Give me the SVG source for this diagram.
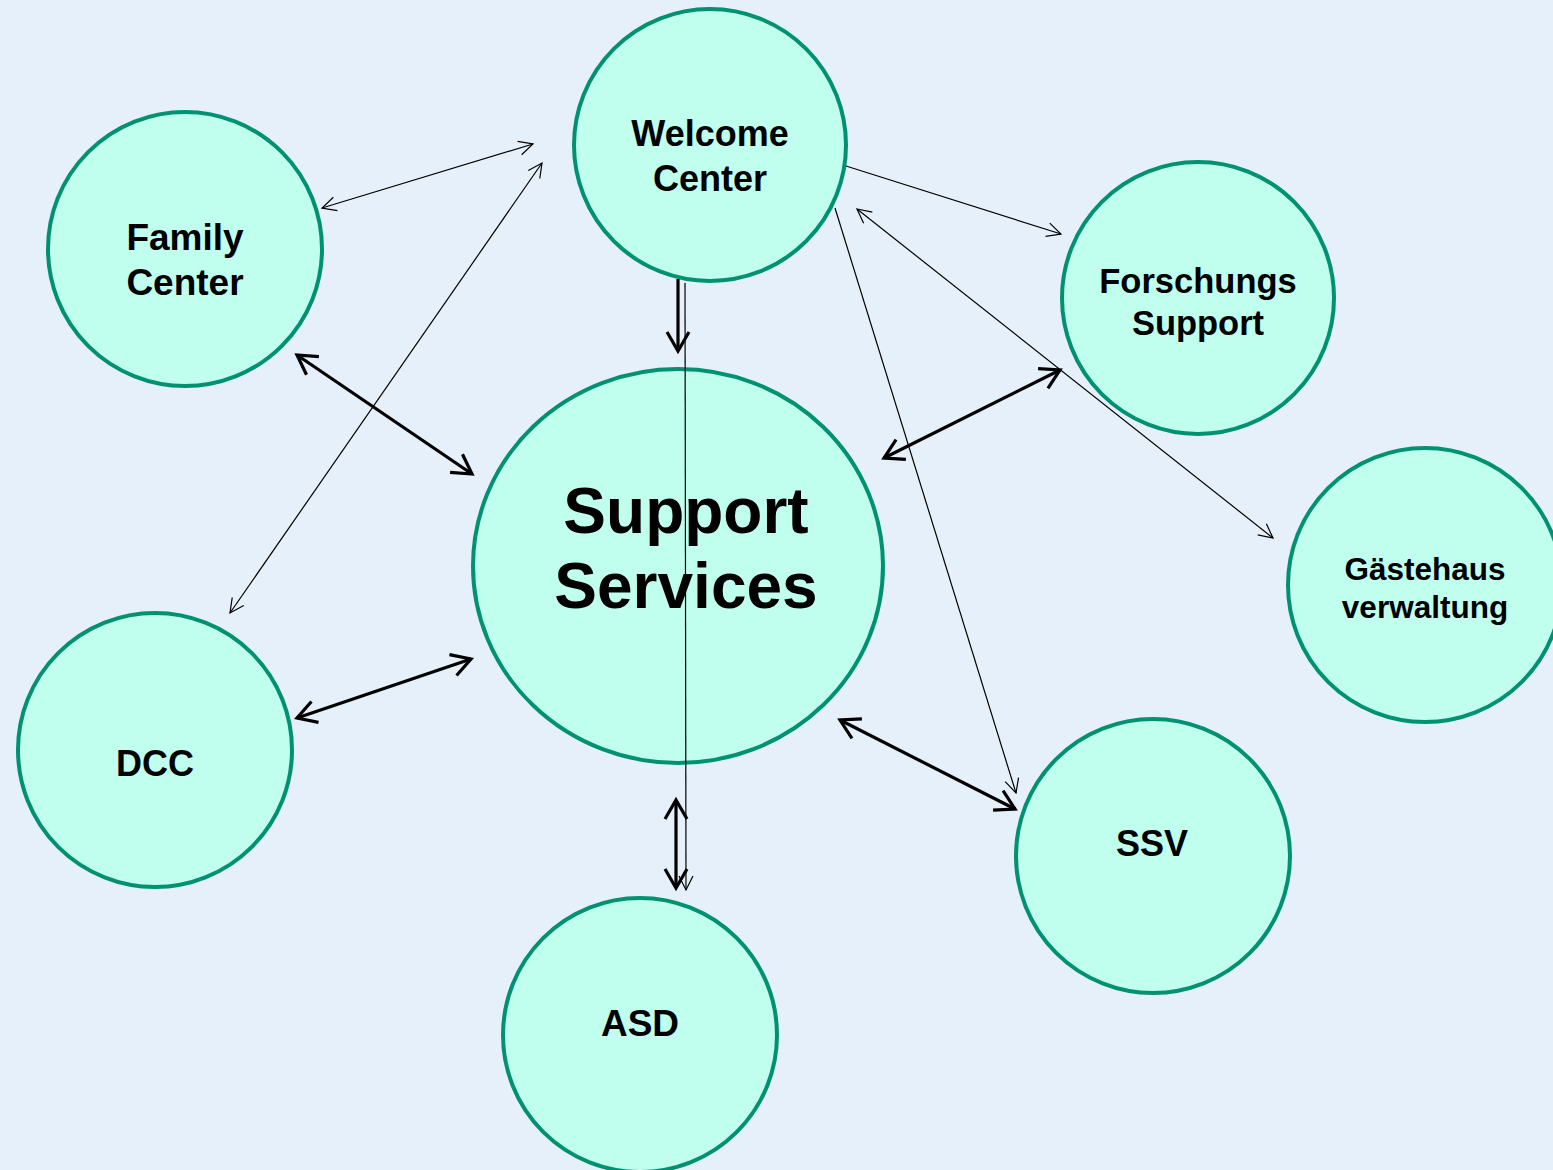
<svg xmlns="http://www.w3.org/2000/svg" width="1553" height="1170" viewBox="0 0 1553 1170">
<defs>
<style>
.node{fill:#C0FFEE;stroke:#009270;stroke-width:4}
.t{font-family:"Liberation Sans",Arial,sans-serif;font-weight:bold;fill:#000;text-anchor:middle}
.thin{stroke:#000;stroke-width:1.2;fill:none}
.thick{stroke:#000;stroke-width:3.2;fill:none}
</style>
<marker id="ah" markerUnits="userSpaceOnUse" markerWidth="40" markerHeight="40" refX="0" refY="0" orient="auto-start-reverse" viewBox="-20 -20 40 40" overflow="visible">
<path d="M-14,-7 L0,0 L-14,7" fill="none" stroke="#000" stroke-width="1.2"/>
</marker>
<marker id="AH" markerUnits="userSpaceOnUse" markerWidth="50" markerHeight="50" refX="0" refY="0" orient="auto-start-reverse" viewBox="-25 -25 50 50" overflow="visible">
<path d="M-19,-11 L0,0 L-19,11" fill="none" stroke="#000" stroke-width="3.2"/>
</marker>
</defs>
<rect width="1553" height="1170" fill="#E6F0FA"/>
<g id="welcome"><circle class="node" cx="710" cy="145" r="136"/><text class="t" font-size="36" x="710" y="146">Welcome</text><text class="t" font-size="36" x="710" y="191">Center</text></g>
<g id="family"><circle class="node" cx="185" cy="249" r="137"/><text class="t" font-size="37" x="185" y="250">Family</text><text class="t" font-size="37" x="185" y="295">Center</text></g>
<g id="forschung"><circle class="node" cx="1198" cy="298" r="136"/><text class="t" font-size="34.5" x="1198" y="293">Forschungs</text><text class="t" font-size="34.5" x="1198" y="335">Support</text></g>
<g id="gaeste"><circle class="node" cx="1425" cy="585" r="137"/><text class="t" font-size="31.5" x="1425" y="580">Gästehaus</text><text class="t" font-size="31.5" x="1425" y="618">verwaltung</text></g>
<g id="support"><ellipse class="node" cx="678" cy="566" rx="205" ry="197"/><text class="t" font-size="64" x="686" y="533">Support</text><text class="t" font-size="64" x="686" y="608">Services</text></g>
<g id="dcc"><circle class="node" cx="155" cy="750" r="137"/><text class="t" font-size="36" x="155" y="776">DCC</text></g>
<g id="ssv"><circle class="node" cx="1153" cy="856" r="137"/><text class="t" font-size="36" x="1152" y="856">SSV</text></g>
<g id="asd"><circle class="node" cx="640" cy="1035" r="137"/><text class="t" font-size="37" x="640" y="1036">ASD</text></g>
<g id="connectors">
<line class="thin" x1="322" y1="208" x2="533" y2="144" marker-start="url(#ah)" marker-end="url(#ah)"/>
<line class="thin" x1="230" y1="613" x2="542" y2="163" marker-start="url(#ah)" marker-end="url(#ah)"/>
<line class="thin" x1="846" y1="166" x2="1061" y2="234" marker-end="url(#ah)"/>
<line class="thin" x1="857" y1="209" x2="1273" y2="538" marker-start="url(#ah)" marker-end="url(#ah)"/>
<line class="thin" x1="835" y1="208" x2="1016" y2="793" marker-end="url(#ah)"/>
<line class="thin" x1="685" y1="283" x2="686" y2="890" stroke="#333" marker-end="url(#ah)"/>
<line class="thick" x1="678" y1="279" x2="678" y2="351" marker-end="url(#AH)"/>
<line class="thick" x1="297" y1="355" x2="472" y2="474" marker-start="url(#AH)" marker-end="url(#AH)"/>
<line class="thick" x1="297" y1="718" x2="471" y2="659" marker-start="url(#AH)" marker-end="url(#AH)"/>
<line class="thick" x1="884" y1="458" x2="1060" y2="370" marker-start="url(#AH)" marker-end="url(#AH)"/>
<line class="thick" x1="840" y1="720" x2="1015" y2="809" marker-start="url(#AH)" marker-end="url(#AH)"/>
<line class="thick" x1="676" y1="800" x2="676" y2="888" marker-start="url(#AH)" marker-end="url(#AH)"/>
</g>
</svg>
